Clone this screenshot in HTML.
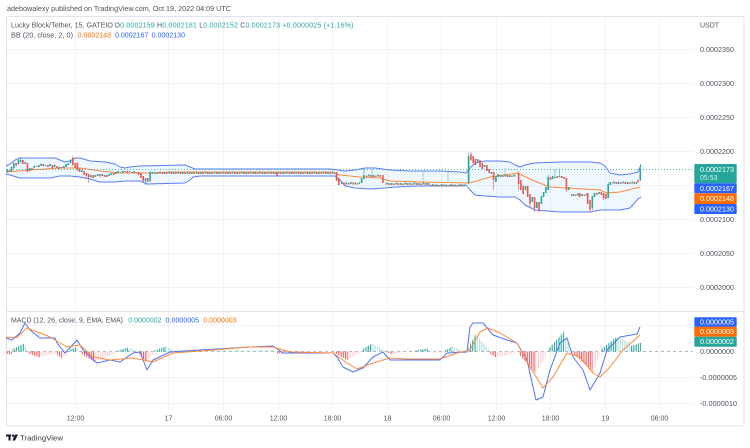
<!DOCTYPE html>
<html><head><meta charset="utf-8">
<style>
html,body{margin:0;padding:0;background:#fff;width:750px;height:448px;overflow:hidden}
svg{display:block;font-family:"Liberation Sans",sans-serif}
</style></head><body>
<svg width="750" height="448" viewBox="0 0 750 448" xmlns="http://www.w3.org/2000/svg">
<defs>
  <pattern id="cp" patternUnits="userSpaceOnUse" width="9.08" height="4">
    <rect x="0.35" y="1" width="1.6" height="2" fill="#26a69a"/>
    <rect x="2.62" y="1.5" width="1.6" height="1.5" fill="#ef5350"/>
    <rect x="4.89" y="0.5" width="1.6" height="2" fill="#26a69a"/>
    <rect x="7.16" y="1" width="1.6" height="2" fill="#ef5350"/>
  </pattern>
  <pattern id="hTd" patternUnits="userSpaceOnUse" width="2.27" height="20"><rect x="0" y="0" width="1.1" height="20" fill="#26a69a"/></pattern>
  <pattern id="hTl" patternUnits="userSpaceOnUse" width="2.27" height="20"><rect x="0" y="0" width="1.1" height="20" fill="#b2dfdb"/></pattern>
  <pattern id="hRd" patternUnits="userSpaceOnUse" width="2.27" height="20"><rect x="0" y="0" width="1.1" height="20" fill="#ff5252"/></pattern>
  <pattern id="hRl" patternUnits="userSpaceOnUse" width="2.27" height="20"><rect x="0" y="0" width="1.1" height="20" fill="#ffcdd2"/></pattern>
</defs>
<rect width="750" height="448" fill="#fff"/>
<text x="7" y="11" font-size="7.5" fill="#50535e" textLength="224" lengthAdjust="spacingAndGlyphs">adebowalexy published on TradingView.com, Oct 19, 2022 04:09 UTC</text>

<!-- grid -->
<g stroke="#f0f3fa" stroke-width="1" fill="none">
  <path d="M7 49.5H693M7 83.5H693M7 117.5H693M7 151.5H693M7 185.5H693M7 219.5H693M7 253.5H693M7 287.5H693"/>
  <path d="M7 325.5H693M7 377.5H693M7 403.5H693"/>
  <path d="M75.5 17V410M168.5 17V410M223.5 17V410M278.5 17V410M332.5 17V410M387.5 17V410M441.5 17V410M496.5 17V410M550.5 17V410M605.5 17V410M659.5 17V410"/>
</g>
<rect x="6.5" y="16.5" width="737.5" height="409.5" rx="2" fill="none" stroke="#e0e3eb"/>
<path d="M7 311.5H744" stroke="#e0e3eb" stroke-width="1"/>

<!-- Bollinger band -->
<polygon fill="#2196f3" fill-opacity="0.07" points="6,166 10,164 15,160 20,158 55,158 60,160 65,162 70,161 75,158 80,158 90,161 105,162 115,164 120,167 125,168 130,167 140,166 185,165 190,167 195,169 240,169 330,169 337,170 345,171 355,170 365,168 375,168 390,170 410,171 440,171 460,172 466,173 470,168 475,163 485,161 500,161 510,162 515,165 520,167 525,165 535,163 560,162 590,162 600,163 605,166 610,173 620,175 630,174 638,172 641,165 641,197 638,199 630,208 620,210 600,210 590,212 560,212 535,210 525,205 520,200 515,197 500,197 485,196 475,195 470,190 466,185 460,186 420,186 395,187 385,188 370,189 355,188 345,186 340,180 335,176 200,176 193,177 190,180 185,183 147,184 140,181 125,181 115,182 100,182 90,179 80,177 70,176 60,176 50,178 20,178 10,175 6,174"/>
<polyline fill="none" stroke="#5b7cf8" stroke-width="1" stroke-linejoin="round" points="6,166 10,164 15,160 20,158 55,158 60,160 65,162 70,161 75,158 80,158 90,161 105,162 115,164 120,167 125,168 130,167 140,166 185,165 190,167 195,169 240,169 330,169 337,170 345,171 355,170 365,168 375,168 390,170 410,171 440,171 460,172 466,173 470,168 475,163 485,161 500,161 510,162 515,165 520,167 525,165 535,163 560,162 590,162 600,163 605,166 610,173 620,175 630,174 638,172 641,165"/>
<polyline fill="none" stroke="#5b7cf8" stroke-width="1" stroke-linejoin="round" points="6,174 10,175 20,178 50,178 60,176 70,176 80,177 90,179 100,182 115,182 125,181 140,181 147,184 185,183 190,180 193,177 200,176 335,176 340,180 345,186 355,188 370,189 385,188 395,187 420,186 460,186 466,185 470,190 475,195 485,196 500,197 515,197 520,200 525,205 535,210 560,212 590,212 600,210 620,210 630,208 638,199 641,197"/>
<polyline fill="none" stroke="#ff8a3d" stroke-width="1" stroke-linejoin="round" points="6,172 30,170 60,168 80,168 100,171 120,173 150,173 170,172 330,172 340,175 360,177 380,178 390,181 420,182 470,183 490,177 517,173 537,182 550,187 567,188 600,190 607,193 620,192 640,187"/>

<!-- candle strips (small candles) -->
<g transform="translate(0,171)"><rect x="154" y="0" width="181" height="4" fill="url(#cp)"/></g>
<g transform="translate(0,181.5)"><rect x="341" y="0" width="19" height="4" fill="url(#cp)"/></g>
<g transform="translate(0,174)"><rect x="366" y="0" width="15" height="4" fill="url(#cp)"/></g>
<g transform="translate(0,182)"><rect x="385" y="0" width="45" height="4" fill="url(#cp)"/></g>
<g transform="translate(0,183.5)"><rect x="430" y="0" width="36" height="4" fill="url(#cp)"/></g>
<g transform="translate(0,174)"><rect x="500" y="0" width="16" height="4" fill="url(#cp)"/></g>
<g transform="translate(0,193)"><rect x="571" y="0" width="16" height="4" fill="url(#cp)"/></g>
<g transform="translate(0,181)"><rect x="612" y="0" width="25" height="4" fill="url(#cp)"/></g>

<!-- wicks -->
<path stroke="#26a69a" stroke-width="0.6" fill="none" d="M7 169v4M11.5 166v6M13.8 162v7M18.4 158v7M20.6 157v6M41.1 163v3M70.6 159v4M91 175v3M145.5 178v7M150 171v11M363.9 168v11M468.6 153v31M548.2 175v15M555 169v9M559.6 170v7M592.3 196v14M608.2 182v16M640.3 164v17"/>
<path stroke="#80cbc4" stroke-width="0.8" fill="none" d="M423 172v10M448 172v11M372 167v8M505 168v7"/>
<path stroke="#ef5350" stroke-width="0.6" fill="none" d="M52.4 165v4M72.8 156v10M77.4 162v9M86.5 173v5M88.7 174v9M100.1 174v4M143.2 176v7M338.9 178v8M470.9 152v9M493.6 172v18M518.6 171v19M530 194v13M534.6 197v15M539.1 202v11M566.4 178v14M590 200v13M603.6 193v7M638 180v3"/>
<!-- teal bodies -->
<path fill="#26a69a" d="M6.2 170h1.6v2h-1.6zM10.7 167h1.6v4h-1.6zM13 163h1.6v5h-1.6zM17.6 160h1.6v4h-1.6zM19.8 160h1.6v2h-1.6zM24.4 162h1.6v2h-1.6zM28.9 168h1.6v3h-1.6zM33.4 166h1.6v2h-1.6zM38 165h1.6v2h-1.6zM40.3 164h1.6v2h-1.6zM44.8 165h1.6v1h-1.6zM49.3 164h1.6v2h-1.6zM53.9 165h1.6v2h-1.6zM58.4 167h1.6v2h-1.6zM63 166h1.6v2h-1.6zM65.2 164h1.6v3h-1.6zM67.5 163h1.6v2h-1.6zM69.8 160h1.6v3h-1.6zM81.1 170h1.6v2h-1.6zM90.2 175h1.6v2h-1.6zM94.7 175h1.6v2h-1.6zM97 174h1.6v2h-1.6zM101.5 174h1.6v2h-1.6zM108.4 174h1.6v2h-1.6zM110.6 173h1.6v2h-1.6zM115.2 172h1.6v2h-1.6zM117.4 171h1.6v2h-1.6zM122 171h1.6v2h-1.6zM124.2 171h1.6v1h-1.6zM128.8 171h1.6v1h-1.6zM133.3 171h1.6v2h-1.6zM144.7 178h1.6v3h-1.6zM149.2 172h1.6v9h-1.6zM151.5 172h1.6v2h-1.6zM360.8 178h1.6v5h-1.6zM363.1 175h1.6v4h-1.6zM467.8 156h1.6v27h-1.6zM476.9 159h1.6v3h-1.6zM483.7 165h1.6v2h-1.6zM490.5 172h1.6v2h-1.6zM495.1 176h1.6v6h-1.6zM497.3 174h1.6v3h-1.6zM524.7 186h1.6v4h-1.6zM531.5 197h1.6v5h-1.6zM536 202h1.6v6h-1.6zM540.6 196h1.6v8h-1.6zM542.8 192h1.6v5h-1.6zM545.1 187h1.6v6h-1.6zM547.4 177h1.6v13h-1.6zM551.9 176h1.6v3h-1.6zM554.2 177h1.6v1.2h-1.6zM558.8 176h1.6v1.2h-1.6zM567.9 187h1.6v3h-1.6zM591.5 196h1.6v12h-1.6zM593.7 193h1.6v4h-1.6zM598.3 192h1.6v2h-1.6zM607.4 184h1.6v14h-1.6zM609.6 182h1.6v3h-1.6zM639.5 169h1.6v11h-1.6z"/>
<!-- red bodies -->
<path fill="#ef5350" d="M8.5 170h1.6v2h-1.6zM15.3 163h1.6v3h-1.6zM22.1 160h1.6v4h-1.6zM26.6 163h1.6v9h-1.6zM31.2 168h1.6v2h-1.6zM35.7 166h1.6v1h-1.6zM42.5 164h1.6v2h-1.6zM47.1 165h1.6v2h-1.6zM51.6 165h1.6v3h-1.6zM56.1 166h1.6v2h-1.6zM60.7 167h1.6v1h-1.6zM72 158h1.6v7h-1.6zM74.3 163h1.6v5h-1.6zM76.6 163h1.6v7h-1.6zM78.8 168h1.6v4h-1.6zM83.4 171h1.6v4h-1.6zM85.7 173h1.6v3h-1.6zM87.9 174h1.6v3h-1.6zM92.5 175h1.6v3h-1.6zM99.3 174h1.6v2h-1.6zM103.8 175h1.6v2h-1.6zM106.1 175h1.6v2h-1.6zM112.9 173h1.6v2h-1.6zM119.7 172h1.6v1h-1.6zM126.5 171h1.6v2h-1.6zM131.1 172h1.6v1h-1.6zM135.6 172h1.6v1h-1.6zM137.9 172h1.6v3h-1.6zM140.1 173h1.6v5h-1.6zM142.4 176h1.6v5h-1.6zM146.9 178h1.6v4h-1.6zM276.2 173h1.6v3h-1.6zM335.8 172h1.6v9h-1.6zM338.1 178h1.6v7h-1.6zM382.1 175h1.6v8h-1.6zM470.1 154h1.6v6h-1.6zM472.4 156h1.6v7h-1.6zM474.6 159h1.6v6h-1.6zM479.2 160h1.6v7h-1.6zM481.5 163h1.6v6h-1.6zM486 165h1.6v6h-1.6zM488.3 169h1.6v4h-1.6zM492.8 172h1.6v8h-1.6zM517.8 173h1.6v11h-1.6zM520.1 180h1.6v10h-1.6zM522.4 186h1.6v8h-1.6zM526.9 186h1.6v11h-1.6zM529.2 194h1.6v10h-1.6zM533.8 197h1.6v11h-1.6zM538.3 202h1.6v8h-1.6zM549.7 177h1.6v3h-1.6zM556.5 176h1.6v2h-1.6zM561 176h1.6v2h-1.6zM563.3 177h1.6v2h-1.6zM565.6 178h1.6v12h-1.6zM578.7 193h1.6v4h-1.6zM586.9 193h1.6v11h-1.6zM589.2 200h1.6v10h-1.6zM596 193h1.6v2h-1.6zM600.6 192h1.6v3h-1.6zM602.8 193h1.6v5h-1.6zM605.1 194h1.6v5h-1.6zM637.2 180h1.6v2h-1.6z"/>

<path d="M7 169.5H693" stroke="#26a69a" stroke-width="1" stroke-dasharray="1,2" opacity="0.8"/>

<!-- MACD -->
<path d="M7 351.5H693" stroke="#9598a1" stroke-width="1" stroke-dasharray="3,3" opacity="0.7"/>
<g>
<polygon fill="url(#hRd)" points="6,351.5 6,353.5 12,354.5 12,351.5"/>
<polygon fill="url(#hTd)" points="12,351.5 12,349.5 24,343.5 24,351.5"/>
<polygon fill="url(#hTl)" points="24,351.5 24,344.5 27,348.5 27,351.5"/>
<polygon fill="url(#hRd)" points="28,351.5 28,353.5 40,357.5 40,351.5"/>
<polygon fill="url(#hRl)" points="40,351.5 40,356.5 56,353.5 56,351.5"/>
<polygon fill="url(#hRd)" points="57,351.5 57,354.5 62,358.5 62,351.5"/>
<polygon fill="url(#hRl)" points="62,351.5 62,358.5 68,354.5 68,351.5"/>
<polygon fill="url(#hTd)" points="70,351.5 70,349.5 76,347.5 76,351.5"/>
<polygon fill="url(#hTl)" points="76,351.5 76,347.5 79,350.5 79,351.5"/>
<polygon fill="url(#hRd)" points="81,351.5 81,353.5 95,362.5 95,351.5"/>
<polygon fill="url(#hRl)" points="95,351.5 95,361.5 115,353.5 115,351.5"/>
<polygon fill="url(#hTd)" points="118,351.5 118,350.5 128,347.5 128,351.5"/>
<polygon fill="url(#hTl)" points="128,351.5 128,347.5 137,350.5 137,351.5"/>
<polygon fill="url(#hRd)" points="139,351.5 139,354.5 147,362.5 147,351.5"/>
<polygon fill="url(#hRl)" points="147,351.5 147,361.5 153,353.5 153,351.5"/>
<polygon fill="url(#hTd)" points="154,351.5 154,350.5 166,346.5 166,351.5"/>
<polygon fill="url(#hTl)" points="166,351.5 166,346.5 175,350.5 175,351.5"/>
<polygon fill="url(#hTl)" points="176,351.5 176,350.3 276,350.3 276,351.5"/>
<polygon fill="url(#hRd)" points="277,351.5 277,353.5 284,353.5 284,351.5"/>
<polygon fill="url(#hRl)" points="285,351.5 285,352.7 335,352.7 335,351.5"/>
<polygon fill="url(#hRd)" points="336,351.5 336,353.5 348,360.5 348,351.5"/>
<polygon fill="url(#hRl)" points="348,351.5 348,359.5 360,352.5 360,351.5"/>
<polygon fill="url(#hTd)" points="362,351.5 362,349.5 372,343.5 372,351.5"/>
<polygon fill="url(#hTl)" points="372,351.5 372,343.5 386,350.5 386,351.5"/>
<polygon fill="url(#hRd)" points="387,351.5 387,352.5 392,354.5 392,351.5"/>
<polygon fill="url(#hRl)" points="392,351.5 392,354.5 402,352.5 402,351.5"/>
<polygon fill="url(#hTd)" points="415,351.5 415,350.5 428,348.5 428,351.5"/>
<polygon fill="url(#hRl)" points="430,351.5 430,352.7 444,352.7 444,351.5"/>
<polygon fill="url(#hTd)" points="445,351.5 445,350.5 452,346.5 452,351.5"/>
<polygon fill="url(#hTl)" points="452,351.5 452,346.5 463,350.5 463,351.5"/>
<polygon fill="url(#hTd)" points="468,351.5 468,348.5 476,333.5 476,351.5"/>
<polygon fill="url(#hTl)" points="476,351.5 476,334.5 489,349.5 489,351.5"/>
<polygon fill="url(#hRd)" points="490,351.5 490,353.5 496,357.5 496,351.5"/>
<polygon fill="url(#hRl)" points="496,351.5 496,357.5 515,353.5 515,351.5"/>
<polygon fill="url(#hRd)" points="519,351.5 519,354.5 536,373.5 536,351.5"/>
<polygon fill="url(#hRl)" points="537,351.5 537,371.5 546,354.5 546,351.5"/>
<polygon fill="url(#hTd)" points="548,351.5 548,349.5 564,331.5 564,351.5"/>
<polygon fill="url(#hTl)" points="564,351.5 564,333.5 571,349.5 571,351.5"/>
<polygon fill="url(#hRd)" points="573,351.5 573,353.5 593,371.5 593,351.5"/>
<polygon fill="url(#hRl)" points="594,351.5 594,369.5 600,353.5 600,351.5"/>
<polygon fill="url(#hTd)" points="601,351.5 601,349.5 617,336.5 617,351.5"/>
<polygon fill="url(#hTl)" points="617,351.5 617,337.5 630,342.5 630,351.5"/>
<polygon fill="url(#hTd)" points="630,351.5 630,346.5 641,342.5 641,351.5"/>
</g>
<polyline fill="none" stroke="#4d74f7" stroke-width="1" stroke-linejoin="round" points="6,338 12,340 20,333 25,323 30,330 40,338 55,338 57,343 65,353 77,340 83,350 97,363 110,360 120,362 133,353 140,352 147,370 153,360 170,352 200,350 250,347 273,346 283,353 297,353 333,353 337,357 343,367 353,372 363,368 373,357 383,352 390,360 407,360 440,360 447,353 467,352 470,327 473,323 483,323 493,335 507,340 517,343 527,360 533,387 536,400 543,397 550,370 560,343 567,338 573,357 583,370 590,390 600,373 607,350 620,337 637,334 640,327"/>
<polyline fill="none" stroke="#ff8a3d" stroke-width="1" stroke-linejoin="round" points="6,337 16,338 27,328 40,333 50,337 67,347 80,345 93,357 110,360 133,358 153,362 173,353 187,352 250,347 273,347 290,352 333,353 347,363 357,369 373,363 390,358 407,359 440,359 457,353 470,350 480,332 488,328 500,333 517,343 530,367 543,388 553,377 567,353 580,357 593,373 600,377 610,367 623,350 640,335"/>

<!-- legends -->
<text x="11" y="27.5" font-size="7" fill="#50535e" textLength="102" lengthAdjust="spacingAndGlyphs">Lucky Block/Tether, 15, GATEIO</text>
<text x="114.5" y="27.5" font-size="7" fill="#50535e" textLength="239" lengthAdjust="spacing">O<tspan fill="#26a69a">0.0002159</tspan>  H<tspan fill="#26a69a">0.0002181</tspan>  L<tspan fill="#26a69a">0.0002152</tspan>  C<tspan fill="#26a69a">0.0002173</tspan>  <tspan fill="#26a69a">+0.0000025 (+1.16%)</tspan></text>
<text x="11" y="37.5" font-size="7" fill="#50535e" textLength="62" lengthAdjust="spacingAndGlyphs">BB (20, close, 2, 0)</text>
<text x="77.7" y="37.5" font-size="7" fill="#ff6d00" textLength="33.3" lengthAdjust="spacingAndGlyphs">0.0002148</text>
<text x="115" y="37.5" font-size="7" fill="#2962ff" textLength="33.3" lengthAdjust="spacingAndGlyphs">0.0002167</text>
<text x="151.7" y="37.5" font-size="7" fill="#2962ff" textLength="33.3" lengthAdjust="spacingAndGlyphs">0.0002130</text>

<text x="11" y="322.5" font-size="7" fill="#50535e" textLength="112" lengthAdjust="spacingAndGlyphs">MACD (12, 26, close, 9, EMA, EMA)</text>
<text x="128.3" y="322.5" font-size="7" fill="#26a69a" textLength="33.3" lengthAdjust="spacingAndGlyphs">0.0000002</text>
<text x="165.7" y="322.5" font-size="7" fill="#2962ff" textLength="33.3" lengthAdjust="spacingAndGlyphs">0.0000005</text>
<text x="203.3" y="322.5" font-size="7" fill="#ff6d00" textLength="33.3" lengthAdjust="spacingAndGlyphs">0.0000003</text>

<!-- price axis -->
<g font-size="7" fill="#50535e">
  <text x="700" y="27.5">USDT</text>
  <text x="700" y="51.8" textLength="34" lengthAdjust="spacingAndGlyphs">0.0002350</text>
  <text x="700" y="85.8" textLength="34" lengthAdjust="spacingAndGlyphs">0.0002300</text>
  <text x="700" y="119.8" textLength="34" lengthAdjust="spacingAndGlyphs">0.0002250</text>
  <text x="700" y="153.8" textLength="34" lengthAdjust="spacingAndGlyphs">0.0002200</text>
  <text x="700" y="221.8" textLength="34" lengthAdjust="spacingAndGlyphs">0.0002100</text>
  <text x="700" y="255.8" textLength="34" lengthAdjust="spacingAndGlyphs">0.0002050</text>
  <text x="700" y="289.8" textLength="34" lengthAdjust="spacingAndGlyphs">0.0002000</text>
  <text x="700" y="353.8" textLength="34" lengthAdjust="spacingAndGlyphs">0.0000000</text>
  <text x="700" y="379.8" textLength="37" lengthAdjust="spacingAndGlyphs">-0.0000005</text>
  <text x="700" y="405.8" textLength="37" lengthAdjust="spacingAndGlyphs">-0.0000010</text>
</g>
<rect x="694.3" y="164" width="42.4" height="19.3" rx="1" fill="#26a69a"/>
<rect x="694.3" y="183.3" width="42.4" height="10" rx="1" fill="#2962ff"/>
<rect x="694.3" y="193.3" width="42.4" height="10.7" rx="1" fill="#ff6d00"/>
<rect x="694.3" y="204" width="42.4" height="10" rx="1" fill="#2962ff"/>
<g font-size="7" fill="#fff">
  <text x="700" y="171.8" textLength="34" lengthAdjust="spacingAndGlyphs">0.0002173</text>
  <text x="700" y="180.2" fill="#d7f0ec">05:53</text>
  <text x="700" y="190.8" textLength="34" lengthAdjust="spacingAndGlyphs">0.0002167</text>
  <text x="700" y="201.2" textLength="34" lengthAdjust="spacingAndGlyphs">0.0002148</text>
  <text x="700" y="211.5" textLength="34" lengthAdjust="spacingAndGlyphs">0.0002130</text>
</g>
<rect x="694.3" y="317.3" width="42.4" height="9.6" rx="1" fill="#2962ff"/>
<rect x="694.3" y="326.8" width="42.4" height="10" rx="1" fill="#ff6d00"/>
<rect x="694.3" y="336.7" width="42.4" height="10" rx="1" fill="#26a69a"/>
<g font-size="7" fill="#fff">
  <text x="700" y="324.5" textLength="34" lengthAdjust="spacingAndGlyphs">0.0000005</text>
  <text x="700" y="334.2" textLength="34" lengthAdjust="spacingAndGlyphs">0.0000003</text>
  <text x="700" y="344.2" textLength="34" lengthAdjust="spacingAndGlyphs">0.0000002</text>
</g>

<!-- time axis -->
<g font-size="7" fill="#50535e" text-anchor="middle">
  <text x="75.5" y="420.5">12:00</text>
  <text x="168.5" y="420.5">17</text>
  <text x="223.5" y="420.5">06:00</text>
  <text x="278.5" y="420.5">12:00</text>
  <text x="332.5" y="420.5">18:00</text>
  <text x="387.5" y="420.5">18</text>
  <text x="441.5" y="420.5">06:00</text>
  <text x="496.5" y="420.5">12:00</text>
  <text x="550.5" y="420.5">18:00</text>
  <text x="605.5" y="420.5">19</text>
  <text x="659.5" y="420.5">06:00</text>
</g>

<!-- TradingView logo -->
<g fill="#131722">
  <rect x="6" y="434.5" width="5" height="2"/>
  <rect x="8.5" y="434.5" width="2" height="6"/>
  <circle cx="13" cy="435.7" r="1.2"/>
  <path d="M15 434.5h3l-3 6h-2.6z"/>
</g>
<text x="20" y="440.5" font-size="7.5" fill="#363a45" textLength="43" lengthAdjust="spacingAndGlyphs">TradingView</text>
</svg>
</body></html>
